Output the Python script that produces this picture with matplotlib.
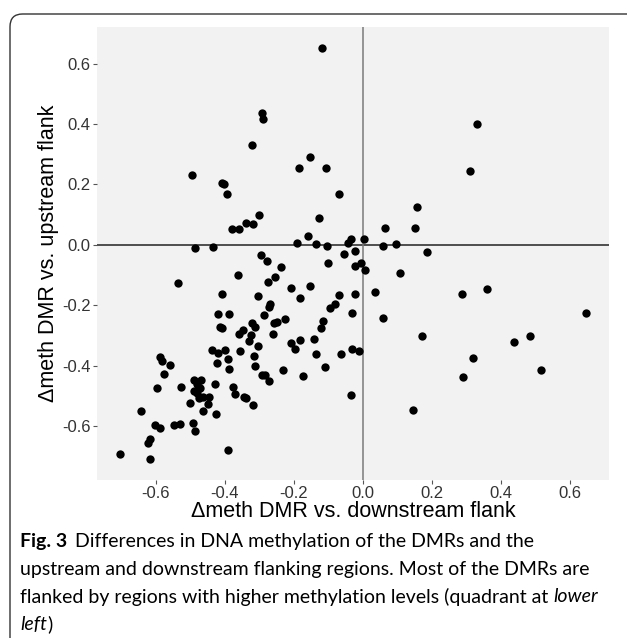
import matplotlib
matplotlib.use("Agg")
import matplotlib.pyplot as plt
from matplotlib.patches import FancyBboxPatch

plt.rcParams['font.family'] = ['Liberation Sans', 'DejaVu Sans']
plt.rcParams['axes.unicode_minus'] = False

# delta methylation, DMR vs. downstream flank (x) and vs. upstream flank (y)
x_down = [
    -0.119, -0.293, -0.288, -0.322, -0.153, -0.184, -0.108, -0.494, -0.409, -0.403,
    -0.394, -0.069, -0.300, -0.128, -0.339, -0.319, -0.380, -0.359, -0.158, -0.191,
    -0.135, -0.103, -0.033, -0.044, -0.487, -0.433, -0.024, -0.055, -0.295, -0.276,
    -0.101, -0.238, -0.022,
    0.330, 0.310, 0.158, 0.064, 0.150, 0.002, 0.059, 0.097, 0.186, -0.005,
    0.007, 0.108, 0.034, 0.287, 0.358, 0.058, 0.645, 0.171, 0.437, 0.485,
    0.320, 0.515, 0.290, 0.144,
    -0.361, -0.253, -0.274, -0.535, -0.207, -0.153, -0.408, -0.302, -0.183, -0.069,
    -0.024, -0.080, -0.096, -0.269, -0.272, -0.419, -0.386, -0.285, -0.031, -0.224,
    -0.258, -0.248, -0.320, -0.116, -0.413, -0.409, -0.313, -0.348, -0.359, -0.323,
    -0.120, -0.259, -0.330, -0.207, -0.183, -0.141, -0.195, -0.304, -0.030, -0.010,
    -0.436, -0.419, -0.399, -0.355, -0.135, -0.064, -0.314, -0.586, -0.580, -0.391,
    -0.559, -0.421, -0.313, -0.232, -0.386, -0.109, -0.576, -0.292, -0.283, -0.272,
    -0.173, -0.490, -0.467, -0.481, -0.472, -0.489, -0.479, -0.474, -0.462, -0.446,
    -0.525, -0.595, -0.427, -0.377, -0.371, -0.344, -0.337, -0.319, -0.501, -0.447,
    -0.463, -0.425, -0.643, -0.602, -0.586, -0.547, -0.530, -0.492, -0.485, -0.617,
    -0.621, -0.702, -0.616, -0.390, -0.034,
]
y_up = [
    0.653, 0.435, 0.418, 0.332, 0.290, 0.253, 0.254, 0.231, 0.203, 0.200,
    0.167, 0.168, 0.100, 0.089, 0.073, 0.070, 0.052, 0.052, 0.028, 0.005,
    0.004, -0.003, 0.019, 0.007, -0.012, -0.007, -0.022, -0.030, -0.034, -0.054,
    -0.061, -0.074, -0.071,
    0.401, 0.244, 0.126, 0.054, 0.055, 0.020, -0.005, 0.003, -0.023, -0.059,
    -0.082, -0.092, -0.156, -0.162, -0.147, -0.244, -0.226, -0.301, -0.323, -0.301,
    -0.374, -0.415, -0.438, -0.549,
    -0.099, -0.108, -0.123, -0.128, -0.143, -0.138, -0.162, -0.171, -0.178, -0.168,
    -0.162, -0.196, -0.211, -0.197, -0.205, -0.230, -0.230, -0.233, -0.226, -0.247,
    -0.259, -0.256, -0.259, -0.251, -0.272, -0.277, -0.274, -0.282, -0.294, -0.298,
    -0.275, -0.294, -0.320, -0.325, -0.317, -0.312, -0.346, -0.335, -0.344, -0.351,
    -0.350, -0.358, -0.348, -0.351, -0.362, -0.361, -0.368, -0.371, -0.385, -0.380,
    -0.399, -0.391, -0.400, -0.414, -0.410, -0.404, -0.429, -0.432, -0.432, -0.452,
    -0.436, -0.447, -0.449, -0.460, -0.474, -0.486, -0.491, -0.508, -0.504, -0.504,
    -0.470, -0.476, -0.461, -0.472, -0.496, -0.503, -0.508, -0.530, -0.523, -0.527,
    -0.550, -0.559, -0.551, -0.597, -0.606, -0.596, -0.593, -0.592, -0.618, -0.644,
    -0.656, -0.694, -0.711, -0.679, -0.498,
]
ticks = [-0.6, -0.4, -0.2, 0.0, 0.2, 0.4, 0.6]
tick_labels = ["-0.6", "-0.4", "-0.2", "0.0", "0.2", "0.4", "0.6"]

caption_lines = [
    "Differences in DNA methylation of the DMRs and the",
    "upstream and downstream flanking regions. Most of the DMRs are",
    "flanked by regions with higher methylation levels (quadrant at ",
]

fig = plt.figure(figsize=(6.27, 6.38), dpi=100)

# frame round figure + caption
frame = FancyBboxPatch((10 / 627, -0.05), 1.2, 1.05 - 14 / 638,
                       boxstyle="round,pad=0,rounding_size=0.02",
                       transform=fig.transFigure, fill=False,
                       edgecolor="#333333", linewidth=1.0)
fig.patches.append(frame)

ax = fig.add_axes([97 / 627, 1 - 480 / 638, 512 / 627, 453 / 638])
ax.set_facecolor("#F2F2F2")
for s in ax.spines.values():
    s.set_visible(False)

ax.axhline(0, color="#222222", linewidth=1.1, zorder=1)
ax.axvline(0, color="#7a7a7a", linewidth=1.1, zorder=1)
ax.scatter(x_down, y_up, s=36, color="black", linewidths=0, zorder=3)

xr = max(x_down) - min(x_down)
yr = max(y_up) - min(y_up)
ax.set_xlim(min(x_down) - 0.05 * xr, max(x_down) + 0.05 * xr)
ax.set_ylim(min(y_up) - 0.05 * yr, max(y_up) + 0.05 * yr)

ax.set_xticks(ticks)
ax.set_xticklabels(tick_labels)
ax.set_yticks(ticks)
ax.set_yticklabels(tick_labels)
ax.tick_params(length=3, width=0.8, color="#555555", labelcolor="#333333",
               labelsize=12, pad=1.5)

ax.set_xlabel("\u0394meth DMR vs. downstream flank", fontsize=15.5, labelpad=0, color="black")
ax.set_ylabel("\u0394meth DMR vs. upstream flank", fontsize=15.5, labelpad=2, color="black")

# caption
cap_font = ['Lato', 'DejaVu Sans']
cap_size = 14
x0 = 20 / 627
fig.canvas.draw()
r = fig.canvas.get_renderer()
t = fig.text(x0, 1 - 542 / 638, "Fig. 3", fontsize=cap_size, fontweight="bold",
             family=cap_font, va="center")
w = t.get_window_extent(r).width
fig.text(x0 + (w + 8) / 627, 1 - 542 / 638, caption_lines[0], fontsize=cap_size,
         family=cap_font, va="center")
fig.text(x0, 1 - 570 / 638, caption_lines[1], fontsize=cap_size, family=cap_font, va="center")
t3 = fig.text(x0, 1 - 597 / 638, caption_lines[2], fontsize=cap_size, family=cap_font, va="center")
w3 = t3.get_window_extent(r).width
fig.text(x0 + w3 / 627, 1 - 597 / 638, "lower", fontsize=cap_size, family=cap_font,
         style="italic", va="center")
t4 = fig.text(x0, 1 - 624 / 638, "left", fontsize=cap_size, family=cap_font,
              style="italic", va="center")
w4 = t4.get_window_extent(r).width
fig.text(x0 + w4 / 627, 1 - 624 / 638, ")", fontsize=cap_size, family=cap_font, va="center")

fig.savefig("out.png", dpi=100)
